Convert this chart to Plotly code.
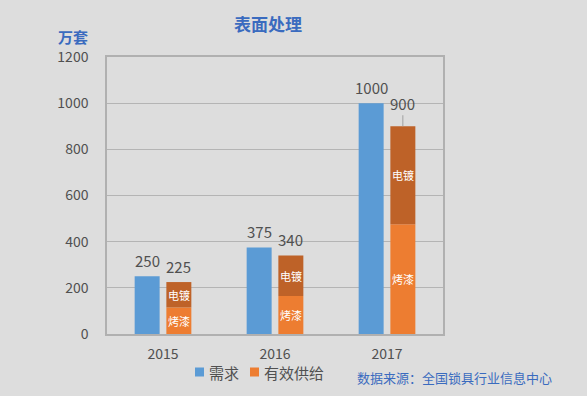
import plotly.graph_objects as go

years = ["2015", "2016", "2017"]
demand = [250, 375, 1000]
paint = [115, 165, 475]      # 烤漆
plating = [110, 175, 425]    # 电镀
supply_total = [225, 340, 900]
y_ticks = [0, 200, 400, 600, 800, 1000, 1200]

FONT = "Noto Sans CJK SC"
BLUE = "#5b9bd5"
ORANGE = "#ed7d31"
DARK = "#be6228"
TXT = "#505050"
TBLUE = "#3a6bbf"
W = 0.223
OFF_D = -0.253
OFF_S = 0.03

L, R, T, B = 107, 144, 57, 62
PW, PH = 587 - L - R, 396 - T - B


def px(x):
    return (x - L) / PW


def py(y):
    return (396 - B - y) / PH


xs = list(range(len(years)))

fig = go.Figure()
fig.add_trace(go.Bar(x=xs, y=demand, name="需求", marker_color=BLUE,
                     width=W, offset=OFF_D, marker_line_width=0))
fig.add_trace(go.Bar(x=xs, y=paint, name="烤漆", marker_color=ORANGE,
                     width=W, offset=OFF_S, marker_line_width=0))
fig.add_trace(go.Bar(x=xs, y=plating, base=paint, name="电镀", marker_color=DARK,
                     width=W, offset=OFF_S, marker_line_width=0))

ann = []
xc_s = [i + OFF_S + W / 2 for i in xs]
for i, v in enumerate(demand):
    ann.append(dict(x=i + OFF_D + W / 2, y=v, text=str(v), showarrow=False,
                    yshift=16, font=dict(size=15, color=TXT, family=FONT)))
for i, v in enumerate(supply_total):
    if i < 2:
        ann.append(dict(x=xc_s[i], y=v, text=str(v), showarrow=False,
                        yshift=16, font=dict(size=15, color=TXT, family=FONT)))
    else:
        ann.append(dict(x=xc_s[i], y=v, text=str(v), showarrow=True,
                        arrowhead=0, arrowwidth=1, arrowcolor="#a0a0a0", ax=0, ay=-23,
                        font=dict(size=15, color=TXT, family=FONT)))
# segment labels
for i in xs:
    ann.append(dict(x=xc_s[i], y=paint[i] / 2, text="烤漆", showarrow=False,
                    font=dict(size=11, color="white", family=FONT)))
    ann.append(dict(x=xc_s[i], y=paint[i] + plating[i] / 2, text="电镀", showarrow=False,
                    font=dict(size=11, color="white", family=FONT)))

ann.append(dict(xref="paper", yref="paper", x=px(268), y=py(23),
                text="<b>表面处理</b>", showarrow=False, xanchor="center", yanchor="middle",
                font=dict(size=17, color=TBLUE, family=FONT)))
ann.append(dict(xref="paper", yref="paper", x=px(73), y=py(36),
                text="<b>万套</b>", showarrow=False, xanchor="center", yanchor="middle",
                font=dict(size=15, color=TBLUE, family=FONT)))
ann.append(dict(xref="paper", yref="paper", x=px(355), y=py(377),
                text="数据来源：全国锁具行业信息中心", showarrow=False, xanchor="left",
                yanchor="middle", font=dict(size=13, color=TBLUE, family=FONT)))

# legend (manual)
legend_items = [("需求", BLUE, 195), ("有效供给", ORANGE, 250)]
shapes = []
for name, col, x0 in legend_items:
    shapes.append(dict(type="rect", xref="paper", yref="paper",
                       x0=px(x0), x1=px(x0 + 9), y0=py(376.5), y1=py(367.5),
                       fillcolor=col, line=dict(width=0)))
    ann.append(dict(xref="paper", yref="paper", x=px(x0 + 12), y=py(372),
                    text=name, showarrow=False, xanchor="left", yanchor="middle",
                    font=dict(size=15, color=TXT, family=FONT)))

fig.update_layout(
    width=587, height=396,
    margin=dict(l=L, r=R, t=T, b=B, pad=0),
    paper_bgcolor="#dddddd", plot_bgcolor="#dddddd",
    barmode="overlay",
    font=dict(family=FONT, color=TXT),
    showlegend=False,
    annotations=ann,
    shapes=shapes,
)
fig.update_xaxes(range=[-0.5, 2.5], tickvals=xs, ticktext=years, showgrid=False,
                 showline=True, linecolor="#b0b0b0", linewidth=1.5, mirror=True,
                 ticks="outside", ticklen=6, tickcolor="rgba(0,0,0,0)",
                 tickfont=dict(size=14, color=TXT), fixedrange=True)
fig.update_yaxes(range=[0, 1200], tickvals=y_ticks, showgrid=True, gridcolor="#b4b4b4",
                 gridwidth=1, showline=True, linecolor="#b0b0b0", linewidth=1.5, mirror=True,
                 ticks="outside", ticklen=14, tickcolor="rgba(0,0,0,0)",
                 tickfont=dict(size=14, color=TXT), zeroline=False, fixedrange=True)

fig.write_html("out.html", config={"displayModeBar": False},
               post_script="document.body.style.margin='0';")
